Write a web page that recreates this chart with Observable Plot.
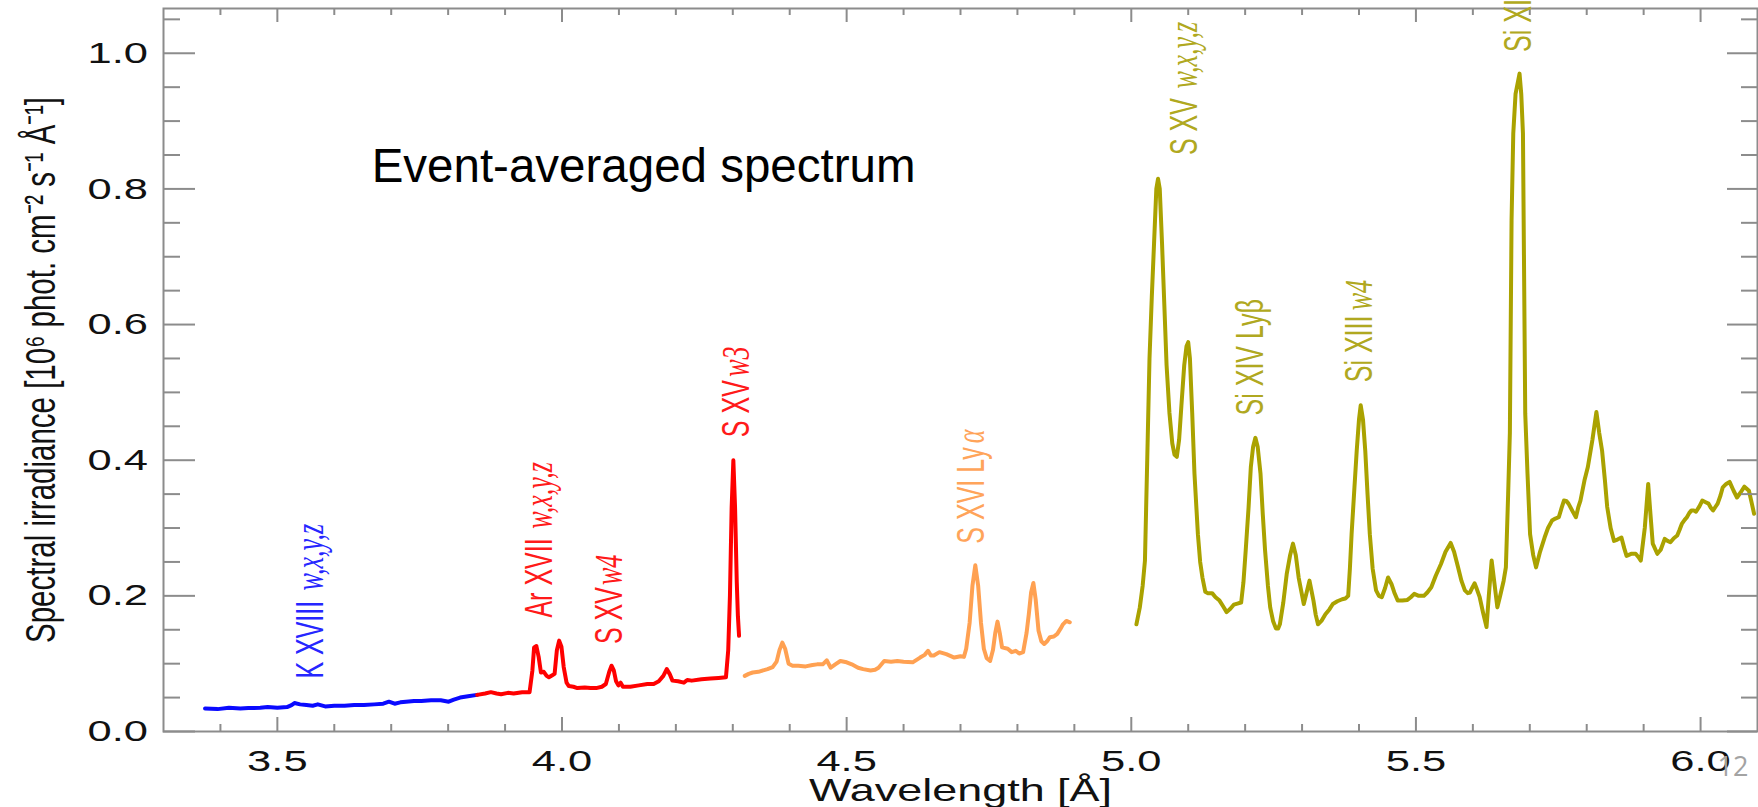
<!DOCTYPE html>
<html>
<head>
<meta charset="utf-8">
<script src="https://cdn.jsdelivr.net/npm/d3@7"></script>
<script src="https://cdn.jsdelivr.net/npm/@observablehq/plot@0.6"></script>
<style>
  html, body { margin: 0; padding: 0; background: #fff; }
  #chart { position: relative; width: 1758px; height: 807px; overflow: hidden; }
</style>
</head>
<body>
<div id="chart"></div>
<script>
// ---------------- data ----------------
// [wavelength Å, spectral irradiance 10^6 phot cm^-2 s^-1 Å^-1]
const blueSpectrum = [
  [3.373,0.034],[3.395,0.033],[3.415,0.035],[3.435,0.034],[3.449,0.0345],[3.47,0.035],[3.483,0.036],
  [3.50,0.035],[3.517,0.036],[3.525,0.039],[3.530,0.042],[3.540,0.040],[3.551,0.039],[3.562,0.038],
  [3.571,0.040],[3.584,0.037],[3.60,0.038],[3.618,0.038],[3.635,0.039],[3.652,0.039],[3.67,0.040],
  [3.686,0.041],[3.696,0.044],[3.706,0.041],[3.716,0.043],[3.726,0.044],[3.74,0.045],[3.753,0.045],
  [3.77,0.046],[3.787,0.046],[3.801,0.044],[3.81,0.047],[3.821,0.050],[3.835,0.052],[3.851,0.054]
];
const redSpectrum = [
  [3.851,0.054],[3.865,0.056],[3.875,0.058],[3.885,0.056],[3.893,0.055],[3.905,0.057],[3.915,0.056],
  [3.93,0.058],[3.943,0.058],[3.948,0.09],[3.951,0.124],[3.955,0.126],[3.959,0.11],[3.963,0.087],
  [3.968,0.088],[3.973,0.082],[3.977,0.080],[3.983,0.083],[3.987,0.085],[3.991,0.12],[3.995,0.134],
  [3.999,0.125],[4.003,0.095],[4.008,0.072],[4.012,0.067],[4.02,0.066],[4.027,0.064],[4.04,0.065],
  [4.05,0.064],[4.06,0.064],[4.07,0.066],[4.077,0.070],[4.083,0.088],[4.087,0.097],[4.091,0.090],
  [4.095,0.074],[4.099,0.068],[4.103,0.072],[4.107,0.066],[4.12,0.066],[4.135,0.068],[4.15,0.070],
  [4.161,0.070],[4.17,0.074],[4.178,0.082],[4.184,0.092],[4.189,0.085],[4.194,0.075],[4.204,0.074],
  [4.214,0.072],[4.22,0.076],[4.228,0.075],[4.245,0.077],[4.261,0.078],[4.275,0.079],[4.288,0.080],
  [4.292,0.12],[4.295,0.20],[4.298,0.33],[4.301,0.400],[4.304,0.33],[4.307,0.22],[4.309,0.17],[4.311,0.141]
];
const orangeSpectrum = [
  [4.321,0.082],[4.328,0.085],[4.335,0.087],[4.345,0.088],[4.361,0.092],[4.37,0.095],[4.377,0.103],
  [4.382,0.120],[4.387,0.131],[4.392,0.122],[4.398,0.100],[4.405,0.097],[4.415,0.097],[4.428,0.096],
  [4.44,0.098],[4.448,0.099],[4.458,0.099],[4.465,0.105],[4.472,0.094],[4.48,0.099],[4.489,0.104],
  [4.50,0.102],[4.509,0.099],[4.52,0.094],[4.529,0.092],[4.542,0.090],[4.55,0.091],[4.556,0.094],
  [4.566,0.104],[4.578,0.103],[4.589,0.104],[4.60,0.103],[4.616,0.102],[4.629,0.109],[4.637,0.113],
  [4.643,0.119],[4.648,0.112],[4.653,0.112],[4.663,0.117],[4.675,0.114],[4.689,0.109],[4.70,0.111],
  [4.706,0.110],[4.710,0.122],[4.716,0.160],[4.721,0.215],[4.726,0.245],[4.731,0.215],[4.736,0.160],
  [4.741,0.122],[4.746,0.108],[4.752,0.104],[4.757,0.120],[4.761,0.145],[4.765,0.162],[4.769,0.145],
  [4.773,0.124],[4.783,0.122],[4.79,0.117],[4.797,0.119],[4.803,0.115],[4.810,0.117],[4.816,0.145],
  [4.820,0.173],[4.824,0.205],[4.828,0.219],[4.832,0.195],[4.837,0.149],[4.842,0.133],[4.847,0.129],
  [4.852,0.133],[4.857,0.139],[4.864,0.140],[4.870,0.144],[4.876,0.152],[4.880,0.158],[4.886,0.163],[4.892,0.161]
];
const oliveSpectrum = [
  [5.009,0.158],[5.015,0.183],[5.020,0.215],[5.024,0.252],[5.028,0.40],[5.032,0.55],[5.036,0.64],
  [5.040,0.72],[5.044,0.80],[5.047,0.815],[5.050,0.80],[5.054,0.72],[5.058,0.63],[5.062,0.54],
  [5.067,0.47],[5.072,0.425],[5.076,0.408],[5.080,0.405],[5.084,0.43],[5.088,0.48],[5.093,0.54],
  [5.097,0.568],[5.100,0.574],[5.103,0.55],[5.107,0.47],[5.111,0.38],[5.117,0.291],[5.121,0.25],
  [5.125,0.227],[5.130,0.206],[5.134,0.204],[5.142,0.204],[5.148,0.198],[5.155,0.193],[5.161,0.185],
  [5.1675,0.176],[5.174,0.181],[5.180,0.187],[5.188,0.189],[5.193,0.19],[5.197,0.22],[5.201,0.267],
  [5.206,0.33],[5.210,0.39],[5.214,0.42],[5.218,0.433],[5.222,0.42],[5.227,0.38],[5.231,0.32],
  [5.235,0.267],[5.240,0.215],[5.244,0.183],[5.249,0.163],[5.254,0.152],[5.258,0.152],[5.261,0.158],
  [5.267,0.19],[5.273,0.232],[5.279,0.26],[5.284,0.277],[5.289,0.26],[5.294,0.227],[5.299,0.205],
  [5.303,0.188],[5.308,0.205],[5.313,0.2225],[5.316,0.21],[5.320,0.193],[5.324,0.172],[5.328,0.158],
  [5.334,0.163],[5.341,0.173],[5.348,0.18],[5.354,0.188],[5.362,0.192],[5.3705,0.195],[5.376,0.196],
  [5.381,0.200],[5.384,0.24],[5.387,0.291],[5.392,0.36],[5.396,0.414],[5.400,0.46],[5.403,0.481],
  [5.407,0.46],[5.411,0.414],[5.415,0.35],[5.419,0.291],[5.424,0.24],[5.430,0.208],[5.435,0.200],
  [5.440,0.198],[5.446,0.212],[5.451,0.227],[5.457,0.2175],[5.462,0.205],[5.468,0.193],[5.476,0.193],
  [5.485,0.194],[5.491,0.198],[5.497,0.203],[5.505,0.200],[5.514,0.200],[5.52,0.205],[5.527,0.2126],
  [5.535,0.23],[5.544,0.247],[5.552,0.265],[5.561,0.278],[5.567,0.265],[5.574,0.242],[5.580,0.222],
  [5.586,0.208],[5.591,0.204],[5.595,0.205],[5.599,0.212],[5.603,0.2185],[5.607,0.21],[5.612,0.198],
  [5.618,0.175],[5.624,0.154],[5.628,0.20],[5.633,0.252],[5.638,0.218],[5.643,0.183],[5.648,0.20],
  [5.654,0.222],[5.658,0.242],[5.662,0.35],[5.665,0.44],[5.668,0.754],[5.671,0.882],[5.675,0.94],
  [5.682,0.970],[5.685,0.94],[5.688,0.882],[5.692,0.469],[5.696,0.38],[5.7005,0.291],[5.706,0.26],
  [5.711,0.242],[5.718,0.265],[5.726,0.286],[5.732,0.300],[5.739,0.311],[5.745,0.314],[5.751,0.316],
  [5.756,0.33],[5.760,0.3405],[5.764,0.34],[5.768,0.336],[5.775,0.325],[5.781,0.316],[5.785,0.33],
  [5.789,0.3405],[5.796,0.37],[5.802,0.39],[5.81,0.43],[5.817,0.471],[5.822,0.44],[5.827,0.414],
  [5.832,0.37],[5.836,0.331],[5.842,0.30],[5.848,0.281],[5.854,0.283],[5.861,0.286],[5.866,0.27],
  [5.870,0.259],[5.878,0.262],[5.886,0.262],[5.891,0.257],[5.895,0.252],[5.902,0.30],[5.908,0.365],
  [5.912,0.32],[5.916,0.277],[5.924,0.262],[5.930,0.268],[5.937,0.284],[5.942,0.281],[5.947,0.279],
  [5.953,0.285],[5.959,0.289],[5.963,0.297],[5.967,0.306],[5.972,0.312],[5.976,0.316],[5.980,0.322],
  [5.984,0.326],[5.988,0.326],[5.992,0.324],[5.998,0.332],[6.003,0.3405],[6.009,0.338],[6.014,0.336],
  [6.018,0.33],[6.022,0.326],[6.026,0.331],[6.030,0.336],[6.035,0.348],[6.039,0.360],[6.045,0.365],
  [6.051,0.368],[6.058,0.355],[6.064,0.345],[6.070,0.352],[6.077,0.361],[6.081,0.358],[6.085,0.355],
  [6.089,0.34],[6.094,0.321]
];

// line identifications (ion name, transition in italics)
const lineIons        = ["K XVIII", "Ar XVII", "S XV", "S XV", "S XVI Ly", "S XV", "Si XIV Lyβ", "Si XIII", "Si XIII"];
const lineTransitions = ["w,x,y,z", "w,x,y,z", "w4", "w3", "α", "w,x,y,z", "", "w4", "w,x,y,z"];
const lineSeries      = ["blue", "red", "red", "red", "orange", "olive", "olive", "olive", "olive"];
const lineWave        = [3.580, 3.982, 4.106, 4.328, 4.742, 5.115, 5.2305, 5.422, 5.702];
const ionLabelBase    = [0.078, 0.168, 0.129, 0.434, 0.277, 0.850, 0.466, 0.515, 1.002];
const transLabelBase  = [0.208, 0.299, 0.216, 0.523, 0.425, 0.948, null, 0.621, 1.100];

// axis ticks
const xMajorTicks = [3.5, 4.0, 4.5, 5.0, 5.5, 6.0];
const xMinorTicks = [3.4, 3.6, 3.7, 3.8, 3.9, 4.1, 4.2, 4.3, 4.4, 4.6, 4.7, 4.8, 4.9, 5.1, 5.2, 5.3, 5.4, 5.6, 5.7, 5.8, 5.9];
const yMajorTicks = [0.0, 0.2, 0.4, 0.6, 0.8, 1.0];
const yMinorTicks = [0.05, 0.1, 0.15, 0.25, 0.3, 0.35, 0.45, 0.5, 0.55, 0.65, 0.7, 0.75, 0.85, 0.9, 0.95, 1.05];

const xTitle = "Wavelength [Å]";
const yTitle = "Spectral irradiance [10⁶ phot. cm⁻² s⁻¹ Å⁻¹]";
const panelTitle = "Event-averaged spectrum";
const pageNumber = "12";

// ---------------- styles ----------------
const palette = { blue: "#0a0aff", red: "#ff0000", orange: "#ffa152", olive: "#aaa200" };
const labelPalette = { blue: "#2626ff", red: "#ff1a1a", orange: "#ffa45a", olive: "#b0a820" };
const axisGray = "#8c8c8c";
const W = 1758, H = 807;
const ML = 163, MR = 1, MT = 8, MB = 76;
const innerW = W - ML - MR, innerH = H - MT - MB;
const sans = "'Liberation Sans', Arial, Helvetica, sans-serif";
const serif = "'Liberation Serif', 'Times New Roman', serif";

const toRows = (arr) => arr.map(([w, v]) => ({w, v}));
const labels = lineIons.map((ion, i) => ({
  ion, trans: lineTransitions[i], w: lineWave[i], y0: ionLabelBase[i], y1: transLabelBase[i],
  color: labelPalette[lineSeries[i]]
}));

// text marks in order: horizontal stretch of their glyphs, and whether they are rotated
const textStretch = [1.45, 1.45, 1.45, 1.45, 1.55, 1.55, 1, 1];
const textRotated = [false, false, false, true, true, true, false, false];

const plot = Plot.plot({
  width: W, height: H,
  marginLeft: ML, marginRight: MR, marginTop: MT, marginBottom: MB,
  x: { domain: [3.3, 6.1], axis: null },
  y: { domain: [0, 1.066], axis: null },
  color: { type: "identity" },
  style: { fontFamily: sans, background: "#fff", color: "#111" },
  marks: [
    // spectrum segments
    Plot.line(toRows(blueSpectrum),   { x: "w", y: "v", stroke: palette.blue,   strokeWidth: 4 }),
    Plot.line(toRows(redSpectrum),    { x: "w", y: "v", stroke: palette.red,    strokeWidth: 4 }),
    Plot.line(toRows(orangeSpectrum), { x: "w", y: "v", stroke: palette.orange, strokeWidth: 4 }),
    Plot.line(toRows(oliveSpectrum),  { x: "w", y: "v", stroke: palette.olive,  strokeWidth: 4 }),
    // frame and inward ticks on all four sides
    Plot.frame({ stroke: axisGray, strokeWidth: 2 }),
    Plot.ruleX(xMajorTicks, { x: d => d, insetTop: innerH - 14, stroke: axisGray, strokeWidth: 2 }),
    Plot.ruleX(xMinorTicks, { x: d => d, insetTop: innerH - 7, stroke: axisGray, strokeWidth: 2 }),
    Plot.ruleX(xMajorTicks, { x: d => d, insetBottom: innerH - 14, stroke: axisGray, strokeWidth: 2 }),
    Plot.ruleX(xMinorTicks, { x: d => d, insetBottom: innerH - 7, stroke: axisGray, strokeWidth: 2 }),
    Plot.ruleY(yMajorTicks, { y: d => d, insetRight: innerW - 32, stroke: axisGray, strokeWidth: 2 }),
    Plot.ruleY(yMinorTicks, { y: d => d, insetRight: innerW - 17, stroke: axisGray, strokeWidth: 2 }),
    Plot.ruleY(yMajorTicks, { y: d => d, insetLeft: innerW - 30, stroke: axisGray, strokeWidth: 2 }),
    Plot.ruleY(yMinorTicks, { y: d => d, insetLeft: innerW - 16, stroke: axisGray, strokeWidth: 2 }),
    // tick labels
    Plot.text(xMajorTicks, { x: d => d, frameAnchor: "bottom", dy: 39, textAnchor: "middle", lineAnchor: "bottom",
      text: d => d.toFixed(1), fontSize: 30, fill: "#111" }),
    Plot.text(yMajorTicks, { y: d => d, frameAnchor: "left", dx: -15.5, textAnchor: "end", lineAnchor: "middle",
      text: d => d.toFixed(1), fontSize: 30, fill: "#111" }),
    // axis titles
    Plot.text([xTitle], { frameAnchor: "bottom", dy: 69, textAnchor: "middle", lineAnchor: "bottom", fontSize: 31, fill: "#111" }),
    Plot.text([yTitle], { frameAnchor: "left", dx: -109, rotate: -90, textAnchor: "middle", lineAnchor: "bottom",
      fontSize: 29.5, fill: "#111" }),
    // line identifications
    Plot.text(labels, { x: "w", y: "y0", text: "ion", rotate: -90, textAnchor: "start", lineAnchor: "bottom",
      fill: "color", fontSize: 25 }),
    Plot.text(labels.filter(d => d.trans), { x: "w", y: "y1", text: "trans", rotate: -90, textAnchor: "start",
      lineAnchor: "bottom", fill: "color", fontSize: 26, fontFamily: serif, fontStyle: "italic" }),
    // panel title
    Plot.text([panelTitle], { x: 3.6656, y: 0.81, textAnchor: "start", lineAnchor: "bottom", fontSize: 47.5, fill: "#000" }),
    // slide page number
    Plot.text([pageNumber], { frameAnchor: "bottom-right", dx: -9, dy: 44, textAnchor: "end", lineAnchor: "bottom",
      fontSize: 27, fill: "#a3a3a3", fontFamily: "'Open Sans', sans-serif" })
  ]
});

document.getElementById("chart").append(plot);

// IDL-style stretched glyphs: widen across the reading direction only
const textGroups = plot.querySelectorAll('g[aria-label="text"]');
textGroups.forEach((g, i) => {
  const s = textStretch[i] ?? 1;
  if (s === 1) return;
  const rotated = textRotated[i];
  g.querySelectorAll("text").forEach((t) => {
    const tr = t.getAttribute("transform") || "";
    t.setAttribute("transform", tr + (rotated ? ` scale(1,${s})` : ` scale(${s},1)`));
  });
});
</script>
</body>
</html>
